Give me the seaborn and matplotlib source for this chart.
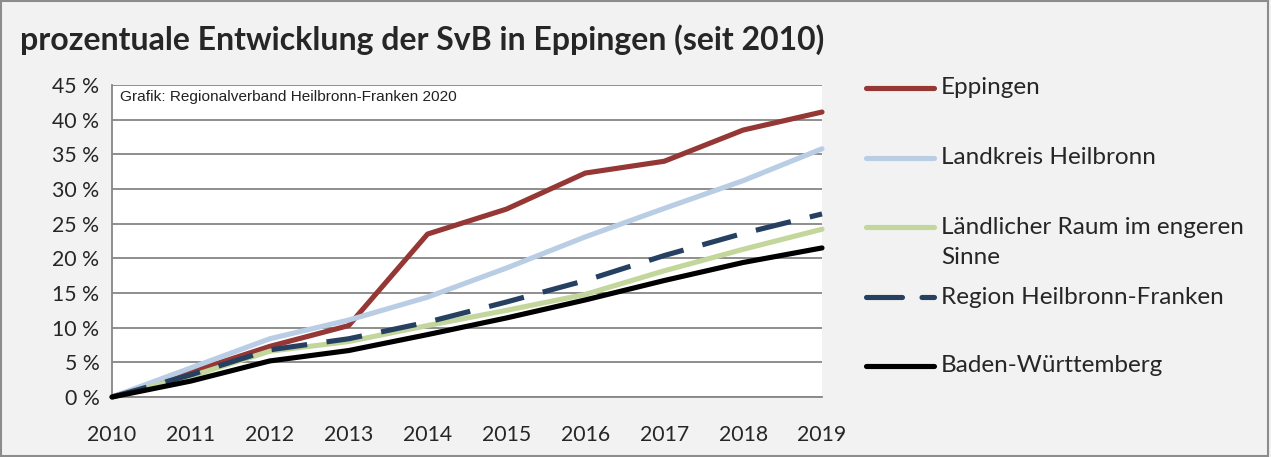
import matplotlib
matplotlib.use("Agg")
import matplotlib.pyplot as plt
from matplotlib.lines import Line2D
from matplotlib.patches import Rectangle
import seaborn as sns

# Data
years = [2010, 2011, 2012, 2013, 2014, 2015, 2016, 2017, 2018, 2019]
eppingen = [0, 3.6, 7.3, 10.3, 23.5, 27.1, 32.3, 34.0, 38.5, 41.1]
landkreis = [0, 4.2, 8.4, 11.1, 14.4, 18.6, 23.1, 27.2, 31.2, 35.8]
laendlich = [0, 3.0, 6.6, 8.0, 10.3, 12.5, 14.8, 18.2, 21.3, 24.2]
region = [0, 3.2, 6.8, 8.4, 10.8, 13.7, 16.8, 20.4, 23.6, 26.4]
bawue = [0, 2.3, 5.2, 6.7, 9.0, 11.4, 14.0, 16.8, 19.4, 21.5]

labels = ["Eppingen", "Landkreis Heilbronn", "Ländlicher Raum im engeren\nSinne",
          "Region Heilbronn-Franken", "Baden-Württemberg"]
series = [eppingen, landkreis, laendlich, region, bawue]
colors = ["#953735", "#b9cde5", "#c3d69b", "#254061", "#000000"]
styles = ["-", "-", "-", (0, (7, 3.8)), "-"]
yticks = list(range(0, 50, 5))

sns.set_style("white")
plt.rcParams['font.family'] = ['Lato', 'DejaVu Sans']

W, H = 1271, 457
fig = plt.figure(figsize=(W / 100, H / 100), dpi=100)
fig.patch.set_facecolor("#f2f2f2")
ax = fig.add_axes([112 / W, 1 - 397 / H, (822 - 112) / W, (397 - 85) / H])
ax.set_facecolor("white")

# light lines first, dark ones on top
order = [1, 2, 3, 4, 0]
for i in order:
    sns.lineplot(x=years, y=series[i], ax=ax, color=colors[i], linewidth=3.7,
                 linestyle=styles[i], zorder=3 + i, clip_on=False)

ax.set_xlim(2010, 2019)
ax.set_ylim(0, 45)
ax.set_yticks(yticks)
ax.set_yticklabels([f"{v} %" for v in yticks], fontsize=15.3)
ax.set_xticks(years)
ax.set_xticklabels([str(y) for y in years], fontsize=15.3)
ax.grid(axis="y", color="#868686", linewidth=1.3)
ax.set_axisbelow(True)
for s in ["top", "right"]:
    ax.spines[s].set_visible(False)
for s in ["left", "bottom"]:
    ax.spines[s].set_color("#868686")
    ax.spines[s].set_linewidth(1.3)
ax.tick_params(axis="x", direction="out", length=8, width=1.3, color="#868686", pad=12)
ax.tick_params(axis="y", direction="out", length=5, width=1.3, color="#868686", pad=4)

ax.text(0.011, 0.983, "Grafik: Regionalverband Heilbronn-Franken 2020",
        transform=ax.transAxes, ha="left", va="top", fontsize=11.1,
        family=["Liberation Sans", "DejaVu Sans"], color="#222222")

fig.text(20 / W, 1 - 40 / H, "prozentuale Entwicklung der SvB in Eppingen (seit 2010)",
         ha="left", va="center", fontsize=23, fontweight="bold")

# Legend drawn by hand to keep the spacing of the original
leg_y = [88, 158, 227, 297, 366]
for i in range(5):
    y = 1 - leg_y[i] / H
    fig.add_artist(Line2D([866 / W, 934 / W], [y, y], color=colors[i], linewidth=3.7,
                          linestyle=styles[i], solid_capstyle="round",
                          dash_capstyle="round"))
    lines = labels[i].split("\n")
    for k, part in enumerate(lines):
        fig.text(941 / W, 1 - (leg_y[i] + 31 * k) / H, part, ha="left", va="center",
                 fontsize=17.5)

fig.add_artist(Rectangle((0.001, 0.002), 0.997, 0.995, transform=fig.transFigure,
                         fill=False, edgecolor="#8c8c8c", linewidth=1.5))

fig.savefig("out.png", dpi=100, facecolor=fig.get_facecolor())
